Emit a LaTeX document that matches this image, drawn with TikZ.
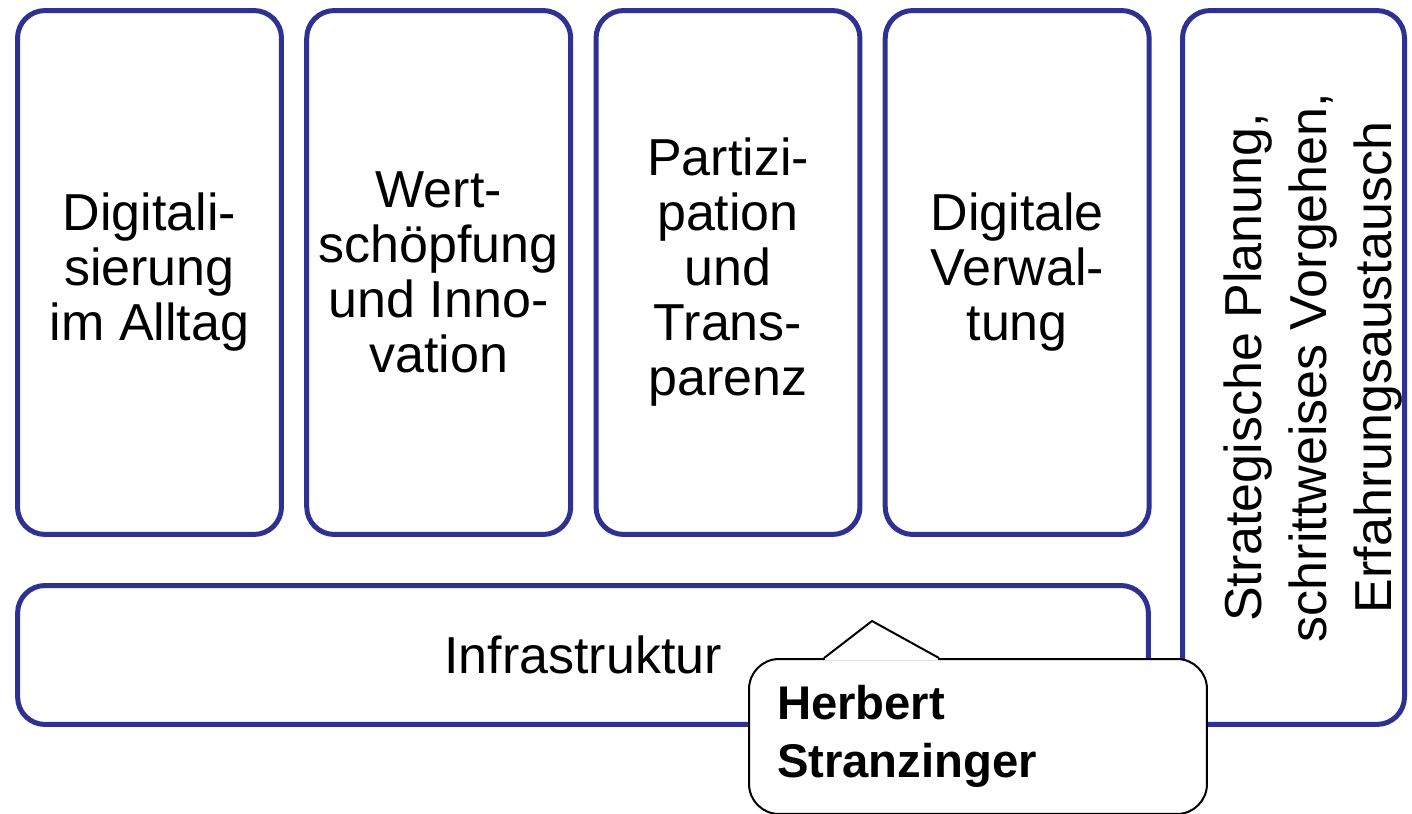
\documentclass[tikz,border=0pt]{standalone}
\usepackage{fontspec}
\setmainfont{Liberation Sans}
\usetikzlibrary{positioning,calc}
\definecolor{navy}{RGB}{46,49,146}

\begin{document}
\begin{tikzpicture}[x=0.02cm,y=-0.02cm,
  box/.style={draw=navy,line width=0.1cm,rounded corners=0.55cm,align=center,inner sep=0pt,font=\fontsize{29.6}{31.3}\selectfont},
  topbox/.style={box,minimum width=5.28cm,minimum height=10.48cm},
  note/.style={draw=black,fill=white,line width=0.04cm,rounded corners=0.6cm,minimum width=9.16cm,minimum height=3.1cm,text width=8.04cm,align=left,inner sep=0pt,font=\bfseries\fontsize{26.9}{32.6}\selectfont}]
\useasboundingbox (0,0) rectangle (1412,814);
\clip (0,0) rectangle (1412,814);

% fields
\node[topbox] (dig) at (149.5,272.5) {Digitali-\\sierung\\im Alltag};
\node[topbox] (wert) at (438.7,272.5) {Wert-\\schöpfung\\und Inno-\\vation};
\node[topbox] (part) at (728,272.5) {Partizi-\\pation\\und\\Trans-\\parenz};
\node[topbox] (verw) at (1017.2,272.5) {Digitale\\Verwal-\\tung};
\node[box,minimum width=22.62cm,minimum height=2.78cm] (infra) at (583,655) {Infrastruktur};
\node[box,rotate=90,minimum width=14.28cm,minimum height=4.44cm,text height=118pt,font=\fontsize{29.6}{37}\selectfont] (strat) at (1293.5,367.5) {Strategische Planung,\\schrittweises Vorgehen,\\Erfahrungsaustausch};

% callout
\node[note] (hs) at (978,736.5) {Herbert\\Stranzinger};
\coordinate (tip) at (872,621);
\draw[white,line width=0.08cm] ($(hs.north west)+(77,0)$) -- ($(hs.north west)+(190,0)$);
\draw[line width=0.04cm] ($(hs.north west)+(76,0)$) -- (tip) -- ($(hs.north west)+(191,0)$);
\end{tikzpicture}
\end{document}
